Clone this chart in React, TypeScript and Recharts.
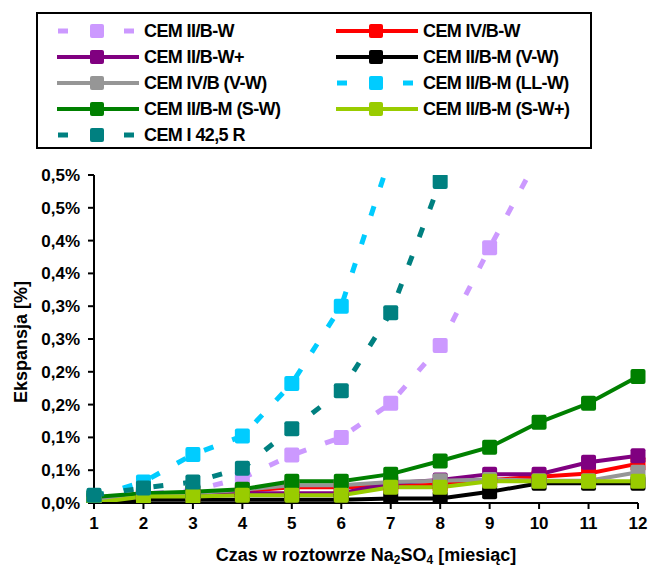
import React from 'react';
import { LineChart, Line, XAxis, YAxis } from 'recharts';

// months on the x axis
const months = [1, 2, 3, 4, 5, 6, 7, 8, 9, 10, 11, 12];

// expansion in %
const cemIIBW = [0.008, 0.014, 0.019, 0.038, 0.073, 0.1, 0.152, 0.24, 0.389, 0.53, null, null];
const cemIVBW = [0.005, 0.012, 0.012, 0.018, 0.024, 0.024, 0.026, 0.028, 0.035, 0.04, 0.045, 0.06];
const cemIIBWplus = [0.005, 0.012, 0.012, 0.015, 0.015, 0.015, 0.03, 0.035, 0.044, 0.044, 0.062, 0.072];
const cemIIBMVW = [0.0, 0.005, 0.005, 0.005, 0.005, 0.005, 0.007, 0.007, 0.017, 0.03, 0.03, 0.03];
const cemIVBVW = [0.005, 0.013, 0.015, 0.02, 0.027, 0.027, 0.032, 0.034, 0.036, 0.034, 0.034, 0.047];
const cemIIBMLLW = [0.01, 0.032, 0.074, 0.102, 0.182, 0.3, 0.53, null, null, null, null, null];
const cemIIBMSW = [0.009, 0.015, 0.017, 0.021, 0.033, 0.033, 0.044, 0.064, 0.085, 0.123, 0.152, 0.193];
const cemIIBMSWplus = [0.0, 0.01, 0.01, 0.012, 0.012, 0.012, 0.024, 0.024, 0.033, 0.033, 0.033, 0.033];
const cemI425R = [0.012, 0.023, 0.032, 0.053, 0.113, 0.171, 0.29, 0.49, null, null, null, null];

const yTicks = [0, 0.05, 0.1, 0.15, 0.2, 0.25, 0.3, 0.35, 0.4, 0.45, 0.5];
const yTickLabels = ['0,0%', '0,1%', '0,1%', '0,2%', '0,2%', '0,3%', '0,3%', '0,4%', '0,4%', '0,5%', '0,5%'];

const FONT = '"Liberation Sans", Arial, sans-serif';

const series = [
  { key: 'a', name: 'CEM II/B-W', values: cemIIBW, color: '#CC99FF', dashed: true },
  { key: 'b', name: 'CEM IV/B-W', values: cemIVBW, color: '#FF0000', dashed: false },
  { key: 'c', name: 'CEM II/B-W+', values: cemIIBWplus, color: '#800080', dashed: false },
  { key: 'd', name: 'CEM II/B-M (V-W)', values: cemIIBMVW, color: '#000000', dashed: false },
  { key: 'e', name: 'CEM IV/B (V-W)', values: cemIVBVW, color: '#969696', dashed: false },
  { key: 'f', name: 'CEM II/B-M (LL-W)', values: cemIIBMLLW, color: '#00CCFF', dashed: true },
  { key: 'g', name: 'CEM II/B-M (S-W)', values: cemIIBMSW, color: '#008000', dashed: false },
  { key: 'h', name: 'CEM II/B-M (S-W+)', values: cemIIBMSWplus, color: '#99CC00', dashed: false },
  { key: 'i', name: 'CEM I 42,5 R', values: cemI425R, color: '#008080', dashed: true },
];

const data = months.map((m, i) => {
  const row: any = { month: m };
  series.forEach((s) => {
    row[s.key] = s.values[i];
  });
  return row;
});

const squareDot = (color: string) => (props: any) => {
  const { cx, cy, value, index } = props;
  if (value == null || cx == null || cy == null) return <g key={`n-${index}`} />;
  return <rect key={`d-${index}`} x={cx - 7.5} y={cy - 7.5} width={15} height={15} rx={2} fill={color} />;
};

function LegendIcon({ color, dashed }: { color: string; dashed: boolean }) {
  return (
    <svg width={84} height={16} style={{ display: 'block' }}>
      {dashed ? (
        <>
          <line x1={2} y1={8} x2={12} y2={8} stroke={color} strokeWidth={5} />
          <line x1={68} y1={8} x2={78} y2={8} stroke={color} strokeWidth={5} />
        </>
      ) : (
        <line x1={1} y1={8} x2={83} y2={8} stroke={color} strokeWidth={4} />
      )}
      <rect x={34} y={1} width={14} height={14} rx={2} fill={color} />
    </svg>
  );
}

function ChartLegend() {
  const rows: any[] = [];
  for (let i = 0; i < series.length; i += 2) rows.push(series.slice(i, i + 2));
  return (
    <div
      style={{
        position: 'absolute',
        left: 36,
        top: 12,
        width: 552,
        height: 133,
        border: '2px solid #000',
        background: '#fff',
        fontFamily: FONT,
        fontWeight: 'bold',
        fontSize: 18,
        letterSpacing: -0.6,
      }}
    >
      {rows.map((row, r) =>
        row.map((s: any, c: number) => (
          <div
            key={s.key}
            style={{
              position: 'absolute',
              left: c === 0 ? 18 : 297,
              top: 7 + r * 26,
              display: 'flex',
              alignItems: 'center',
              height: 20,
            }}
          >
            <LegendIcon color={s.color} dashed={s.dashed} />
            <span style={{ marginLeft: 4, whiteSpace: 'nowrap' }}>{s.name}</span>
          </div>
        ))
      )}
    </div>
  );
}

export default function App() {
  return (
    <div style={{ position: 'absolute', left: 0, top: 0, width: 649, height: 571, background: '#fff' }}>
      <LineChart
        width={649}
        height={571}
        data={data}
        margin={{ top: 175, right: 11, bottom: 38, left: 0 }}
      >
        <XAxis
          dataKey="month"
          type="number"
          domain={[1, 12]}
          ticks={months}
          interval={0}
          height={30}
          axisLine={{ stroke: '#000', strokeWidth: 2 }}
          tickLine={{ stroke: '#000', strokeWidth: 2 }}
          tickSize={6}
          tick={{ fill: '#000', fontSize: 17, fontWeight: 'bold', fontFamily: FONT }}
          tickMargin={8}
        />
        <YAxis
          type="number"
          domain={[0, 0.5]}
          ticks={yTicks}
          interval={0}
          allowDataOverflow
          width={94}
          axisLine={{ stroke: '#000', strokeWidth: 2 }}
          tickLine={{ stroke: '#000', strokeWidth: 2 }}
          tickSize={6}
          tickMargin={8}
          tick={{ fill: '#000', fontSize: 17, fontWeight: 'bold', fontFamily: FONT }}
          tickFormatter={(v: number) => yTickLabels[yTicks.indexOf(v)] ?? ''}
        />
        {series.map((s) => (
          <Line
            key={s.key}
            dataKey={s.key}
            name={s.name}
            type="linear"
            stroke={s.color}
            strokeWidth={s.dashed ? 5 : 4}
            strokeDasharray={s.dashed ? '10 20' : undefined}
            dot={squareDot(s.color)}
            activeDot={false}
            connectNulls={false}
            isAnimationActive={false}
          />
        ))}
      </LineChart>
      <ChartLegend />
      <div
        style={{
          position: 'absolute',
          left: 21,
          top: 342,
          transform: 'translate(-50%, -50%) rotate(-90deg)',
          fontFamily: FONT,
          fontWeight: 'bold',
          fontSize: 18,
          lineHeight: 1,
          whiteSpace: 'nowrap',
        }}
      >
        Ekspansja [%]
      </div>
      <div
        style={{
          position: 'absolute',
          left: 366,
          top: 546,
          transform: 'translateX(-50%)',
          fontFamily: FONT,
          fontWeight: 'bold',
          fontSize: 18,
          lineHeight: '18px',
          whiteSpace: 'nowrap',
        }}
      >
        Czas w roztowrze Na
        <span style={{ fontSize: 12, position: 'relative', top: 3 }}>2</span>SO
        <span style={{ fontSize: 12, position: 'relative', top: 3 }}>4</span> [miesiąc]
      </div>
    </div>
  );
}
